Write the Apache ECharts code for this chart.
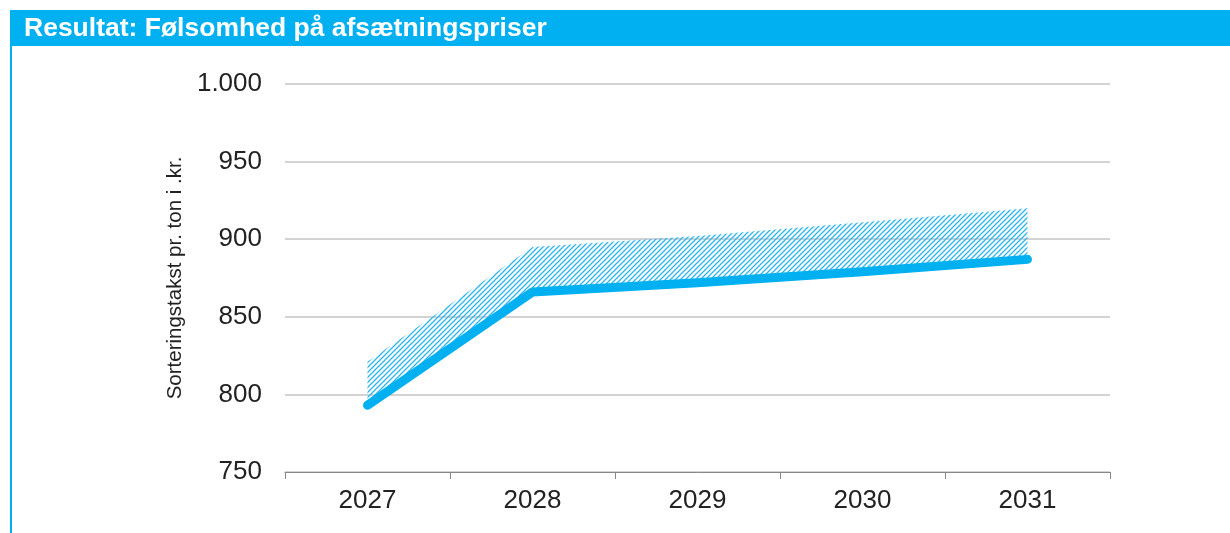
<!DOCTYPE html>
<html><head><meta charset="utf-8">
<script src="https://cdn.jsdelivr.net/npm/echarts@6/dist/echarts.min.js"></script>
<style>html,body{margin:0;padding:0;background:#fff}#c{width:1230px;height:533px}</style>
</head><body><div id="c"></div>
<script>
const categories = ['2027','2028','2029','2030','2031'];
const baseValues = [793, 866, 872, 879, 887];
const upperValues = [821, 895, 902, 911, 920];
const yTicks = {min: 750, max: 1000, interval: 50};
const titleText = 'Resultat: Følsomhed på afsætningspriser';
const yAxisName = 'Sorteringstakst pr. ton i .kr.';

const bandDelta = upperValues.map((v, i) => v - baseValues[i]);

const pc = document.createElement('canvas');
const S = 5;
pc.width = S; pc.height = S;
const g = pc.getContext('2d');
g.strokeStyle = '#2db6ee';
g.lineWidth = 1.3;
g.beginPath();
g.moveTo(-1, S + 1); g.lineTo(S + 1, -1);
g.moveTo(-1, 1); g.lineTo(1, -1);
g.moveTo(S - 1, S + 1); g.lineTo(S + 1, S - 1);
g.stroke();

const FONT = '"Liberation Sans", Arial, sans-serif';
const chart = echarts.init(document.getElementById('c'));
chart.setOption({
  animation: false,
  graphic: [
    {type: 'rect', shape: {x: 10, y: 10, width: 1220, height: 36}, style: {fill: '#00B0F0'}},
    {type: 'rect', shape: {x: 10, y: 46, width: 2, height: 487}, style: {fill: '#00B0F0'}},
    {type: 'text', left: 24, top: 15, style: {text: titleText, fill: '#fff', font: 'bold 26.5px ' + FONT}}
  ],
  grid: {left: 285, right: 120, top: 84, bottom: 61},
  xAxis: {
    type: 'category', data: categories, boundaryGap: true,
    axisLine: {lineStyle: {color: '#888', width: 1}},
    axisTick: {show: true, length: 7, lineStyle: {color: '#888'}},
    axisLabel: {color: '#222', fontSize: 26, margin: 16, fontFamily: FONT}
  },
  yAxis: {
    type: 'value', min: yTicks.min, max: yTicks.max, interval: yTicks.interval,
    name: yAxisName, nameLocation: 'middle', nameGap: 99, nameRotate: 90,
    nameTextStyle: {color: '#222', fontSize: 20.5, fontFamily: FONT},
    axisLine: {show: false}, axisTick: {show: false},
    axisLabel: {color: '#222', fontSize: 26, margin: 23, fontFamily: FONT,
      formatter: v => v >= 1000 ? (Math.floor(v/1000) + '.' + String(v % 1000).padStart(3,'0')) : String(v)},
    splitLine: {lineStyle: {color: '#c4c4c4', width: 1.5}}
  },
  series: [
    {type: 'line', stack: 'band', data: baseValues, symbol: 'none', lineStyle: {opacity: 0}, silent: true},
    {type: 'line', stack: 'band', data: bandDelta, symbol: 'none', lineStyle: {opacity: 0},
      areaStyle: {color: {image: pc, repeat: 'repeat'}, opacity: 1}, silent: true},
    {type: 'line', data: baseValues, symbol: 'none', z: 5,
      lineStyle: {color: '#00B0F0', width: 9, cap: 'round', join: 'round'}}
  ]
});
</script></body></html>
